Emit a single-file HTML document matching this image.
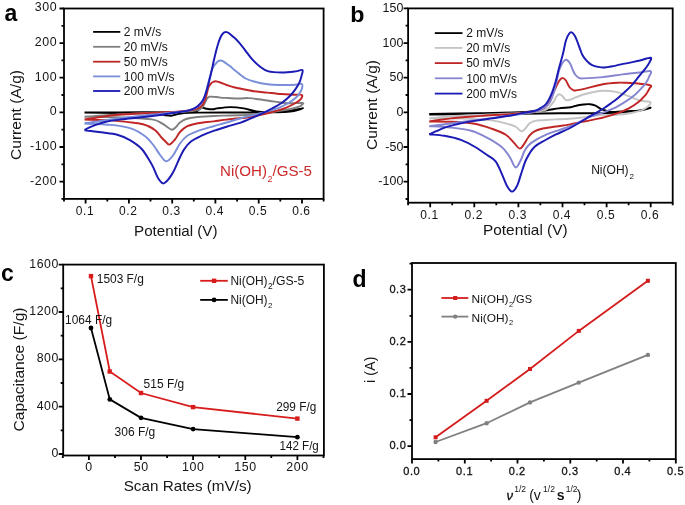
<!DOCTYPE html>
<html><head><meta charset="utf-8"><title>CV figure</title>
<style>
html,body{margin:0;padding:0;background:#fff;}
body{width:685px;height:505px;overflow:hidden;}
svg{display:block;will-change:transform;}
text{font-family:"Liberation Sans",sans-serif;fill:#141414;}
.t{letter-spacing:0.6px;}
.b{font-weight:bold;fill:#000;}
</style></head><body>
<svg width="685" height="505" viewBox="0 0 685 505">
<defs><filter id="bl" filterUnits="userSpaceOnUse" x="0" y="0" width="685" height="505"><feGaussianBlur stdDeviation="0.35"/></filter></defs>
<rect x="0" y="0" width="685" height="505" fill="#fff"/>
<g filter="url(#bl)">
<rect x="64.0" y="8.5" width="259.6" height="190.4" stroke="#000" stroke-width="1.8" fill="none"/>
<path d="M61.5,198.9 H64.0 M59.5,181.6 H64.0 M61.5,164.3 H64.0 M59.5,147.0 H64.0 M61.5,129.7 H64.0 M59.5,112.4 H64.0 M61.5,95.0 H64.0 M59.5,77.7 H64.0 M61.5,60.4 H64.0 M59.5,43.1 H64.0 M61.5,25.8 H64.0 M59.5,8.5 H64.0 " stroke="#000" stroke-width="1.8" fill="none"/>
<path d="M64.0,198.9 V201.4 M85.6,198.9 V203.4 M107.3,198.9 V201.4 M128.9,198.9 V203.4 M150.5,198.9 V201.4 M172.2,198.9 V203.4 M193.8,198.9 V201.4 M215.4,198.9 V203.4 M237.1,198.9 V201.4 M258.7,198.9 V203.4 M280.3,198.9 V201.4 M302.0,198.9 V203.4 M323.6,198.9 V201.4 " stroke="#000" stroke-width="1.8" fill="none"/>
<text x="57.3" y="184.5" font-size="12.4" text-anchor="end" class="t">-200</text>
<text x="57.3" y="149.9" font-size="12.4" text-anchor="end" class="t">-100</text>
<text x="57.3" y="115.3" font-size="12.4" text-anchor="end" class="t">0</text>
<text x="57.3" y="80.6" font-size="12.4" text-anchor="end" class="t">100</text>
<text x="57.3" y="46.0" font-size="12.4" text-anchor="end" class="t">200</text>
<text x="57.3" y="11.4" font-size="12.4" text-anchor="end" class="t">300</text>
<text x="85.0" y="215.2" font-size="12.0" text-anchor="middle" class="t">0.1</text>
<text x="128.3" y="215.2" font-size="12.0" text-anchor="middle" class="t">0.2</text>
<text x="171.6" y="215.2" font-size="12.0" text-anchor="middle" class="t">0.3</text>
<text x="214.8" y="215.2" font-size="12.0" text-anchor="middle" class="t">0.4</text>
<text x="258.1" y="215.2" font-size="12.0" text-anchor="middle" class="t">0.5</text>
<text x="301.4" y="215.2" font-size="12.0" text-anchor="middle" class="t">0.6</text>
<text x="175.8" y="235.5" font-size="15.0" text-anchor="middle" textLength="83.5" lengthAdjust="spacingAndGlyphs">Potential (V)</text>
<text transform="translate(20.8,115.0) rotate(-90)" font-size="15" text-anchor="middle" textLength="90" lengthAdjust="spacingAndGlyphs">Current (A/g)</text>
<text x="4.5" y="21.2" font-size="23.0" text-anchor="start" class="b">a</text>
<path d="M93.1,31.9 H120.3" stroke="#000000" stroke-width="1.8"/>
<text x="123.8" y="36.1" font-size="12.0" text-anchor="start" >2 mV/s</text>
<path d="M93.1,46.8 H120.3" stroke="#808080" stroke-width="1.8"/>
<text x="123.8" y="51.0" font-size="12.0" text-anchor="start" >20 mV/s</text>
<path d="M93.1,61.7 H120.3" stroke="#c02828" stroke-width="1.8"/>
<text x="123.8" y="65.9" font-size="12.0" text-anchor="start" >50 mV/s</text>
<path d="M93.1,76.4 H120.3" stroke="#7a8fd8" stroke-width="1.8"/>
<text x="123.8" y="80.6" font-size="12.0" text-anchor="start" >100 mV/s</text>
<path d="M93.1,91.0 H120.3" stroke="#1a1ab4" stroke-width="1.8"/>
<text x="123.8" y="95.2" font-size="12.0" text-anchor="start" >200 mV/s</text>
<path d="M84.5,112.5 C90.4,112.5 109.1,112.5 120.0,112.4 C130.9,112.4 140.0,112.3 150.0,112.2 C160.0,112.1 172.5,112.1 180.0,111.9 C187.5,111.8 191.8,111.7 195.0,111.3 C198.2,110.9 197.8,110.1 199.0,109.5 C200.2,108.9 200.7,107.7 201.9,107.6 C203.1,107.5 204.6,108.4 206.4,108.7 C208.2,109.0 211.0,109.3 212.8,109.3 C214.6,109.2 214.2,108.8 217.1,108.4 C220.0,108.0 225.9,107.1 230.4,107.1 C234.9,107.1 239.5,107.7 243.8,108.4 C248.1,109.1 251.6,110.8 256.3,111.4 C261.0,112.0 266.4,112.2 272.0,112.0 C277.6,111.8 284.8,111.1 290.0,110.5 C295.2,109.9 303.0,108.1 303.0,108.3 C303.0,108.5 295.5,110.8 290.0,111.5 C284.5,112.2 278.3,112.1 270.0,112.3 C261.7,112.5 251.7,112.5 240.0,112.5 C228.3,112.5 209.3,112.5 200.0,112.6 C190.7,112.7 188.0,112.7 184.0,113.0 C180.0,113.3 178.2,114.0 176.0,114.5 C173.8,115.0 172.8,115.7 171.0,115.8 C169.2,115.9 167.7,115.6 165.0,115.2 C162.3,114.8 160.8,113.9 155.0,113.5 C149.2,113.1 139.2,113.1 130.0,113.0 C120.8,112.9 107.6,112.9 100.0,112.8 C92.4,112.7 87.1,112.6 84.5,112.6" stroke="#000000" stroke-width="1.95" fill="none" stroke-linejoin="round"/>
<path d="M84.5,116.7 C86.2,116.6 90.8,116.3 95.0,116.0 C99.2,115.7 103.8,115.4 110.0,115.0 C116.2,114.6 123.7,114.1 132.0,113.7 C140.3,113.3 151.2,112.9 160.0,112.5 C168.8,112.1 178.8,111.9 185.0,111.5 C191.2,111.1 194.2,110.7 197.0,110.0 C199.8,109.3 200.8,108.6 202.0,107.5 C203.2,106.4 203.7,105.0 204.5,103.5 C205.3,102.0 206.1,99.9 206.9,98.8 C207.7,97.7 208.1,97.0 209.3,96.7 C210.5,96.4 212.2,96.8 214.0,96.9 C215.8,97.1 218.3,97.4 220.4,97.6 C222.5,97.8 223.4,97.8 226.7,97.9 C230.0,98.1 236.4,98.5 240.0,98.5 C243.6,98.5 244.8,97.9 248.3,98.1 C251.8,98.3 256.4,98.9 260.8,99.5 C265.2,100.1 270.1,101.0 274.7,101.6 C279.3,102.2 283.9,103.1 288.5,103.3 C293.1,103.5 300.2,102.7 302.4,103.0 C304.6,103.3 302.0,104.4 301.5,105.0 C301.0,105.6 301.1,105.8 299.6,106.4 C298.1,107.0 295.7,107.8 292.7,108.5 C289.7,109.2 285.8,109.9 281.6,110.6 C277.4,111.3 272.3,112.0 267.7,112.7 C263.1,113.4 258.5,114.1 253.9,114.5 C249.3,114.9 244.8,115.1 240.0,115.3 C235.2,115.5 229.4,115.5 225.0,115.6 C220.6,115.7 218.4,115.7 213.5,116.0 C208.6,116.3 200.2,116.7 195.7,117.2 C191.1,117.7 188.8,118.1 186.2,119.0 C183.6,119.9 181.8,121.1 180.0,122.5 C178.2,123.9 176.8,126.3 175.5,127.5 C174.2,128.7 173.2,129.7 171.9,129.7 C170.7,129.7 169.6,128.5 168.0,127.5 C166.4,126.5 164.9,124.8 162.2,123.5 C159.5,122.2 158.8,120.4 152.0,119.4 C145.2,118.4 132.6,117.9 121.3,117.4 C110.0,117.0 90.6,116.8 84.5,116.7" stroke="#808080" stroke-width="1.95" fill="none" stroke-linejoin="round"/>
<path d="M84.5,119.5 C87.1,119.1 95.2,117.7 100.0,117.0 C104.8,116.3 107.8,115.7 113.0,115.2 C118.2,114.7 124.7,114.4 131.0,114.0 C137.3,113.6 144.5,113.2 151.0,112.9 C157.5,112.6 164.3,112.3 170.0,112.0 C175.7,111.7 180.8,111.5 185.0,111.0 C189.2,110.5 192.3,110.0 195.0,109.3 C197.7,108.5 199.3,108.0 201.0,106.5 C202.7,105.0 204.0,102.8 205.0,100.5 C206.0,98.2 206.4,95.2 207.0,93.0 C207.6,90.8 207.8,88.8 208.5,87.2 C209.2,85.6 210.2,84.5 210.9,83.6 C211.7,82.7 212.2,82.4 213.0,82.0 C213.8,81.6 214.4,81.1 215.6,81.2 C216.8,81.3 218.6,81.9 220.4,82.5 C222.2,83.1 224.3,84.2 226.7,85.0 C229.1,85.8 231.6,86.7 235.0,87.5 C238.4,88.3 244.2,89.4 247.4,90.0 C250.6,90.6 250.5,90.8 253.9,91.2 C257.3,91.6 263.1,92.1 267.7,92.6 C272.3,93.1 277.0,93.7 281.6,94.0 C286.2,94.3 292.1,94.5 295.5,94.7 C298.9,94.9 300.8,94.2 301.7,94.9 C302.6,95.6 302.0,97.5 301.0,98.8 C300.0,100.1 298.0,101.5 295.5,103.0 C293.0,104.5 289.3,106.4 285.8,107.8 C282.3,109.2 278.9,110.1 274.7,111.3 C270.5,112.5 265.4,113.8 260.8,114.8 C256.2,115.8 250.4,116.9 246.9,117.5 C243.4,118.1 243.4,118.0 240.0,118.3 C236.6,118.6 231.0,119.1 226.6,119.6 C222.2,120.1 218.3,120.8 213.5,121.4 C208.7,122.0 202.4,122.4 198.0,123.2 C193.6,124.0 190.3,124.7 187.3,126.2 C184.3,127.7 182.1,129.8 180.0,132.0 C177.9,134.2 176.8,137.4 175.0,139.5 C173.2,141.6 171.0,144.2 169.5,144.6 C168.0,145.0 167.3,143.2 166.0,142.0 C164.7,140.8 163.2,139.4 161.5,137.5 C159.8,135.6 157.8,132.4 155.5,130.5 C153.2,128.6 150.9,127.2 148.0,126.0 C145.1,124.8 144.2,124.2 138.0,123.3 C131.8,122.4 120.0,121.0 111.1,120.4 C102.2,119.8 88.9,119.7 84.5,119.5" stroke="#c02828" stroke-width="1.95" fill="none" stroke-linejoin="round"/>
<path d="M84.5,123.6 C86.2,123.3 90.2,122.5 95.0,121.8 C99.8,121.1 107.0,120.0 113.0,119.2 C119.0,118.4 124.7,117.7 131.0,117.0 C137.3,116.3 144.5,115.5 151.0,114.8 C157.5,114.1 164.3,113.4 170.0,112.8 C175.7,112.2 180.8,112.0 185.0,111.2 C189.2,110.4 192.3,109.5 195.0,108.2 C197.7,106.9 199.5,105.2 201.0,103.5 C202.5,101.8 203.1,100.2 204.0,98.0 C204.9,95.8 205.7,93.0 206.5,90.0 C207.3,87.0 208.2,83.2 209.0,80.0 C209.8,76.8 210.8,73.2 211.5,71.0 C212.2,68.8 212.8,67.7 213.5,66.5 C214.2,65.3 214.8,64.7 215.6,63.8 C216.3,62.9 217.2,61.8 218.0,61.3 C218.8,60.8 219.7,60.6 220.4,60.5 C221.2,60.4 221.8,60.6 222.5,60.9 C223.2,61.2 223.2,61.2 224.4,62.1 C225.6,63.0 228.1,64.7 229.9,66.1 C231.7,67.5 233.3,69.1 235.0,70.5 C236.7,71.9 238.2,73.2 240.0,74.5 C241.8,75.8 243.3,77.3 245.6,78.5 C247.9,79.7 250.2,80.5 253.9,81.5 C257.6,82.5 263.1,83.7 267.7,84.3 C272.3,84.9 277.0,84.9 281.6,85.0 C286.2,85.1 292.1,84.9 295.5,84.7 C298.9,84.5 300.6,83.3 301.7,83.8 C302.8,84.3 302.5,86.1 302.1,87.7 C301.8,89.3 300.7,91.6 299.6,93.3 C298.5,95.0 297.4,96.5 295.5,98.1 C293.6,99.7 291.3,101.4 288.5,103.0 C285.7,104.6 282.3,106.4 278.8,107.8 C275.3,109.2 271.8,110.1 267.7,111.3 C263.6,112.5 258.5,113.6 253.9,114.8 C249.3,116.0 244.6,117.2 240.0,118.5 C235.4,119.8 231.0,121.2 226.6,122.5 C222.2,123.8 218.3,124.8 213.5,126.2 C208.7,127.6 202.4,129.3 198.0,130.9 C193.6,132.5 190.3,133.6 187.3,135.7 C184.3,137.8 182.4,140.2 180.0,143.5 C177.6,146.8 175.3,152.5 173.0,155.5 C170.7,158.5 168.4,161.3 166.3,161.3 C164.2,161.3 162.6,158.1 160.5,155.5 C158.4,152.9 156.4,149.1 154.0,146.0 C151.6,142.9 149.6,139.7 145.8,136.8 C142.1,133.9 137.3,130.6 131.5,128.6 C125.7,126.6 118.9,125.8 111.1,124.9 C103.3,124.1 88.9,123.7 84.5,123.5" stroke="#7a8fd8" stroke-width="1.95" fill="none" stroke-linejoin="round"/>
<path d="M84.5,130.2 C85.2,129.8 87.4,128.4 89.0,127.6 C90.6,126.8 91.3,126.5 94.0,125.6 C96.7,124.7 100.5,123.0 105.0,122.0 C109.5,121.0 114.9,120.2 121.0,119.4 C127.1,118.6 134.9,118.0 141.7,117.2 C148.5,116.4 155.9,115.5 162.0,114.7 C168.1,113.9 174.0,113.0 178.5,112.3 C183.0,111.6 186.2,111.1 189.0,110.4 C191.8,109.7 193.2,109.0 195.0,108.0 C196.8,107.0 198.2,105.8 199.5,104.5 C200.8,103.2 201.9,101.8 202.9,100.2 C203.9,98.6 204.5,97.0 205.3,94.7 C206.1,92.5 207.0,89.1 207.7,86.7 C208.4,84.3 208.8,82.6 209.3,80.5 C209.8,78.4 210.4,76.3 210.9,74.0 C211.4,71.7 212.0,69.2 212.5,66.8 C213.0,64.4 213.5,62.0 214.0,59.7 C214.5,57.4 215.1,55.1 215.6,53.0 C216.1,50.9 216.7,48.9 217.2,47.0 C217.7,45.1 218.3,43.4 218.8,41.8 C219.3,40.2 219.8,38.8 220.4,37.5 C221.0,36.2 221.7,35.0 222.4,34.1 C223.1,33.2 223.8,32.6 224.4,32.3 C225.1,32.0 225.7,32.0 226.3,32.1 C227.0,32.2 227.2,32.0 228.3,32.8 C229.4,33.6 231.4,35.2 233.1,36.7 C234.8,38.2 236.4,39.5 238.5,41.9 C240.6,44.2 243.3,47.8 245.6,50.8 C247.9,53.8 250.1,57.1 252.5,59.7 C254.9,62.3 257.3,64.6 259.8,66.5 C262.3,68.4 264.1,70.1 267.7,71.1 C271.3,72.1 277.0,72.5 281.6,72.5 C286.2,72.5 292.0,71.8 295.5,71.4 C299.0,71.0 301.4,69.3 302.4,70.0 C303.4,70.7 302.2,73.3 301.7,75.3 C301.2,77.3 300.6,79.9 299.6,82.2 C298.6,84.5 297.1,86.8 295.5,89.1 C293.9,91.4 292.2,93.7 289.9,96.0 C287.6,98.3 284.6,100.9 281.6,103.0 C278.6,105.1 275.4,106.7 271.9,108.5 C268.4,110.3 264.5,112.4 260.8,114.1 C257.1,115.8 253.2,117.5 249.7,118.9 C246.2,120.4 243.8,121.5 240.0,122.8 C236.2,124.1 231.0,125.3 226.6,126.7 C222.2,128.1 217.7,129.4 213.5,130.9 C209.3,132.4 205.4,133.9 201.6,135.7 C197.8,137.5 193.9,139.2 190.9,141.6 C187.9,144.0 185.9,146.8 183.8,149.9 C181.7,153.1 180.2,156.9 178.5,160.5 C176.8,164.1 175.2,168.3 173.5,171.5 C171.8,174.7 170.0,177.5 168.3,179.5 C166.6,181.5 164.9,183.7 163.2,183.4 C161.5,183.2 159.5,180.4 158.0,178.0 C156.5,175.6 155.3,171.8 154.0,169.0 C152.7,166.2 152.0,164.6 149.9,161.3 C147.8,158.0 145.1,152.6 141.7,149.0 C138.3,145.4 133.6,142.3 129.5,139.9 C125.4,137.5 122.0,136.0 117.2,134.7 C112.4,133.4 106.4,133.1 100.9,132.3 C95.5,131.6 87.2,130.5 84.5,130.2" stroke="#1a1ab4" stroke-width="1.95" fill="none" stroke-linejoin="round"/>
<text x="220" y="175.7" font-size="14" fill="#cc2a2a" style="fill:#cc2a2a" textLength="47" lengthAdjust="spacingAndGlyphs">Ni(OH)</text>
<text x="267.6" y="181.6" font-size="9" style="fill:#cc2a2a">2</text>
<text x="272.5" y="175.7" font-size="14" style="fill:#cc2a2a" textLength="39.5" lengthAdjust="spacingAndGlyphs">/GS-5</text>
<rect x="408.1" y="8.4" width="264.6" height="194.3" stroke="#000" stroke-width="1.8" fill="none"/>
<path d="M405.6,199.0 H408.1 M403.6,181.7 H408.1 M405.6,164.4 H408.1 M403.6,147.0 H408.1 M405.6,129.7 H408.1 M403.6,112.4 H408.1 M405.6,95.0 H408.1 M403.6,77.7 H408.1 M405.6,60.4 H408.1 M403.6,43.1 H408.1 M405.6,25.7 H408.1 M403.6,8.4 H408.1 " stroke="#000" stroke-width="1.8" fill="none"/>
<path d="M408.1,202.7 V205.2 M430.2,202.7 V207.2 M452.2,202.7 V205.2 M474.3,202.7 V207.2 M496.3,202.7 V205.2 M518.4,202.7 V207.2 M540.4,202.7 V205.2 M562.5,202.7 V207.2 M584.5,202.7 V205.2 M606.6,202.7 V207.2 M628.6,202.7 V205.2 M650.7,202.7 V207.2 M672.7,202.7 V205.2 " stroke="#000" stroke-width="1.8" fill="none"/>
<text x="403.6" y="185.3" font-size="12.4" text-anchor="end" style="letter-spacing:0.15px">-100</text>
<text x="403.6" y="150.6" font-size="12.4" text-anchor="end" style="letter-spacing:0.15px">-50</text>
<text x="403.6" y="116.0" font-size="12.4" text-anchor="end" style="letter-spacing:0.15px">0</text>
<text x="403.6" y="81.3" font-size="12.4" text-anchor="end" style="letter-spacing:0.15px">50</text>
<text x="403.6" y="46.7" font-size="12.4" text-anchor="end" style="letter-spacing:0.15px">100</text>
<text x="403.6" y="12.0" font-size="12.4" text-anchor="end" style="letter-spacing:0.15px">150</text>
<text x="429.6" y="219.2" font-size="12.0" text-anchor="middle" class="t">0.1</text>
<text x="473.7" y="219.2" font-size="12.0" text-anchor="middle" class="t">0.2</text>
<text x="517.8" y="219.2" font-size="12.0" text-anchor="middle" class="t">0.3</text>
<text x="561.9" y="219.2" font-size="12.0" text-anchor="middle" class="t">0.4</text>
<text x="606.0" y="219.2" font-size="12.0" text-anchor="middle" class="t">0.5</text>
<text x="650.1" y="219.2" font-size="12.0" text-anchor="middle" class="t">0.6</text>
<text x="525.3" y="235.3" font-size="15.0" text-anchor="middle" textLength="84.5" lengthAdjust="spacingAndGlyphs">Potential (V)</text>
<text transform="translate(377.1,105) rotate(-90)" font-size="15" text-anchor="middle" textLength="90" lengthAdjust="spacingAndGlyphs">Current (A/g)</text>
<text x="350.3" y="21.8" font-size="22.0" text-anchor="start" class="b" textLength="14.2" lengthAdjust="spacingAndGlyphs">b</text>
<path d="M434.8,33.1 H462.5" stroke="#000000" stroke-width="1.8"/>
<text x="466.2" y="37.3" font-size="12.0" text-anchor="start" >2 mV/s</text>
<path d="M434.8,47.9 H462.5" stroke="#c4c4c4" stroke-width="1.8"/>
<text x="466.2" y="52.1" font-size="12.0" text-anchor="start" >20 mV/s</text>
<path d="M434.8,63.1 H462.5" stroke="#c02828" stroke-width="1.8"/>
<text x="466.2" y="67.3" font-size="12.0" text-anchor="start" >50 mV/s</text>
<path d="M434.8,78.3 H462.5" stroke="#8585d0" stroke-width="1.8"/>
<text x="466.2" y="82.5" font-size="12.0" text-anchor="start" >100 mV/s</text>
<path d="M434.8,93.6 H462.5" stroke="#1a1ab4" stroke-width="1.8"/>
<text x="466.2" y="97.8" font-size="12.0" text-anchor="start" >200 mV/s</text>
<path d="M429.2,113.9 C437.7,113.8 464.9,113.5 480.0,113.2 C495.1,112.9 510.8,112.6 520.0,112.3 C529.2,112.0 530.5,111.5 535.0,111.2 C539.5,110.9 542.9,110.7 546.9,110.2 C550.9,109.7 554.8,108.9 558.7,108.4 C562.7,107.9 567.7,107.6 570.6,107.2 C573.5,106.8 573.8,106.2 576.0,105.8 C578.2,105.3 581.3,104.8 583.6,104.5 C585.9,104.2 588.0,104.0 590.0,104.2 C592.0,104.4 593.6,104.8 595.5,105.6 C597.4,106.4 599.0,108.2 601.1,109.1 C603.2,110.0 605.7,110.6 608.0,111.1 C610.3,111.6 612.1,112.0 615.0,112.0 C617.9,112.0 621.5,111.6 625.6,111.3 C629.8,111.0 635.7,111.0 639.9,110.4 C644.1,109.8 650.6,107.7 650.6,107.7 C650.6,107.7 644.2,109.8 640.0,110.5 C635.8,111.2 632.3,111.8 625.6,112.2 C618.9,112.6 610.9,112.9 600.0,113.1 C589.1,113.3 573.3,113.2 560.0,113.3 C546.7,113.4 533.3,113.6 520.0,113.8 C506.7,114.0 495.1,114.1 480.0,114.2 C464.9,114.3 437.7,114.5 429.2,114.5" stroke="#000000" stroke-width="1.95" fill="none" stroke-linejoin="round"/>
<path d="M429.2,118.4 C432.8,118.1 440.6,117.0 450.7,116.3 C460.8,115.6 476.8,115.1 490.0,114.5 C503.2,113.9 520.7,113.3 530.0,112.5 C539.3,111.7 542.5,110.8 546.0,109.5 C549.5,108.2 549.7,106.4 551.0,105.0 C552.3,103.6 553.1,102.7 554.0,101.3 C554.9,99.9 555.5,97.7 556.4,96.5 C557.3,95.3 558.3,94.3 559.3,94.2 C560.3,94.1 561.2,95.0 562.3,96.0 C563.4,97.0 564.5,99.5 565.9,100.1 C567.3,100.7 569.1,99.9 570.6,99.5 C572.1,99.1 572.5,98.6 575.0,97.7 C577.5,96.8 580.7,95.2 585.3,94.0 C589.9,92.8 597.7,91.1 602.8,90.8 C607.9,90.5 611.4,91.0 615.8,91.9 C620.1,92.8 624.9,94.8 628.9,96.2 C632.9,97.7 636.3,99.6 639.9,100.6 C643.5,101.6 650.0,100.9 650.6,102.4 C651.2,103.9 646.8,107.7 643.5,109.5 C640.2,111.3 635.5,112.1 631.0,113.0 C626.5,113.9 621.9,114.5 616.7,114.8 C611.5,115.1 604.6,114.7 600.0,115.0 C595.4,115.3 593.9,116.1 588.8,116.7 C583.6,117.3 575.7,118.2 569.1,118.7 C562.5,119.2 554.9,119.4 549.4,119.7 C543.9,120.0 539.6,120.0 536.3,120.6 C533.0,121.2 532.1,121.4 529.7,123.2 C527.4,125.0 524.5,130.6 522.2,131.2 C519.9,131.8 518.0,128.1 516.0,127.0 C514.0,125.9 514.0,125.6 509.9,124.5 C505.8,123.4 499.7,121.4 491.5,120.4 C483.3,119.4 471.3,118.9 460.9,118.6 C450.5,118.3 434.5,118.4 429.2,118.4" stroke="#c4c4c4" stroke-width="1.95" fill="none" stroke-linejoin="round"/>
<path d="M429.2,121.5 C432.8,121.0 442.0,119.3 450.7,118.4 C459.4,117.5 471.1,116.7 481.3,115.9 C491.5,115.2 503.1,114.6 512.0,113.9 C521.0,113.2 529.6,112.5 535.0,111.5 C540.4,110.5 542.1,109.3 544.5,107.8 C546.9,106.3 547.8,104.8 549.2,102.5 C550.6,100.2 551.5,97.2 552.8,94.2 C554.1,91.2 555.8,87.1 557.0,84.7 C558.2,82.3 558.9,81.0 559.9,79.9 C560.9,78.8 561.9,78.0 562.9,78.1 C563.9,78.2 564.8,79.0 565.9,80.5 C567.0,82.0 568.2,85.4 569.4,87.0 C570.6,88.6 571.9,89.4 573.0,90.0 C574.1,90.6 574.0,90.6 576.0,90.4 C578.0,90.2 580.8,89.6 585.3,88.6 C589.8,87.6 597.3,85.2 602.8,84.2 C608.2,83.2 614.2,82.9 618.0,82.7 C621.8,82.5 623.1,82.7 625.6,82.8 C628.1,82.9 630.8,83.0 633.2,83.2 C635.6,83.4 637.0,83.3 639.9,83.7 C642.8,84.1 649.0,84.6 650.6,85.4 C652.2,86.2 650.0,87.4 649.5,88.5 C649.0,89.6 648.2,90.9 647.5,92.0 C646.8,93.1 646.9,93.5 645.4,95.2 C643.9,96.9 641.3,99.9 638.5,102.1 C635.7,104.3 632.3,106.6 628.8,108.4 C625.3,110.2 621.9,111.7 617.7,113.2 C613.6,114.7 608.5,116.2 603.9,117.4 C599.3,118.6 593.6,119.7 590.0,120.4 C586.4,121.2 585.8,121.2 582.3,121.9 C578.8,122.6 573.5,123.8 569.1,124.6 C564.7,125.4 560.4,125.8 556.0,126.5 C551.6,127.2 546.5,127.6 542.8,128.5 C539.1,129.4 536.0,130.4 533.6,131.8 C531.2,133.2 530.1,135.0 528.5,137.0 C526.9,139.0 525.7,142.0 524.2,143.9 C522.7,145.8 521.4,148.8 519.7,148.6 C518.0,148.4 516.3,145.2 514.0,142.9 C511.7,140.6 509.6,137.1 505.8,134.7 C502.1,132.3 496.9,130.5 491.5,128.6 C486.1,126.7 479.9,124.7 473.1,123.5 C466.3,122.3 458.0,122.0 450.7,121.7 C443.4,121.4 432.8,121.5 429.2,121.5" stroke="#c02828" stroke-width="1.95" fill="none" stroke-linejoin="round"/>
<path d="M429.2,126.2 C432.8,125.8 442.0,124.6 450.7,123.5 C459.4,122.4 471.1,120.8 481.3,119.4 C491.5,118.0 503.9,116.5 512.0,115.3 C520.1,114.1 525.3,113.4 530.0,112.5 C534.7,111.6 537.3,111.0 540.0,110.0 C542.7,109.0 544.3,107.8 546.0,106.5 C547.7,105.2 548.8,103.9 550.0,102.0 C551.2,100.1 552.0,98.0 553.0,95.0 C554.0,92.0 555.1,87.8 556.0,84.0 C556.9,80.2 557.8,75.3 558.5,72.5 C559.2,69.7 559.7,68.7 560.5,66.9 C561.3,65.1 562.5,62.7 563.5,61.5 C564.5,60.3 565.4,59.4 566.5,59.7 C567.6,60.0 568.9,61.5 570.0,63.3 C571.1,65.1 572.1,68.5 573.0,70.4 C573.9,72.4 574.5,73.8 575.5,75.0 C576.5,76.2 577.7,77.2 579.0,77.8 C580.3,78.4 579.2,78.5 583.2,78.4 C587.2,78.3 596.3,77.8 602.8,77.1 C609.3,76.4 616.2,75.2 622.4,74.4 C628.6,73.6 635.2,72.9 639.9,72.4 C644.6,71.9 649.0,70.5 650.6,71.2 C652.2,71.9 649.9,74.7 649.2,76.5 C648.5,78.3 647.6,80.3 646.5,82.0 C645.4,83.7 644.7,84.7 642.7,86.9 C640.7,89.1 637.4,92.7 634.4,95.2 C631.4,97.7 628.2,99.9 624.7,102.1 C621.2,104.3 617.5,106.6 613.6,108.4 C609.7,110.2 605.0,111.8 601.1,113.2 C597.2,114.6 593.5,115.5 590.0,116.9 C586.5,118.3 582.8,120.1 580.0,121.5 C577.2,122.9 576.5,123.8 573.1,125.2 C569.8,126.6 564.3,128.3 559.9,129.8 C555.5,131.3 550.7,132.8 546.8,134.4 C542.9,136.1 539.4,137.8 536.3,139.7 C533.2,141.5 530.3,143.4 528.3,145.5 C526.2,147.6 525.2,149.7 524.0,152.0 C522.8,154.3 522.6,156.7 521.2,159.3 C519.8,161.9 517.5,167.8 515.6,167.4 C513.7,167.1 512.2,160.6 509.9,157.2 C507.6,153.8 505.4,150.2 501.7,147.0 C497.9,143.8 492.5,140.5 487.4,137.8 C482.3,135.1 477.2,132.4 471.1,130.7 C465.0,129.0 457.7,128.3 450.7,127.6 C443.7,126.8 432.8,126.4 429.2,126.2" stroke="#8585d0" stroke-width="1.95" fill="none" stroke-linejoin="round"/>
<path d="M429.2,134.3 C430.4,133.8 433.8,132.3 436.3,131.2 C438.8,130.1 441.6,128.7 444.0,127.8 C446.4,126.9 448.0,126.5 450.7,125.8 C453.4,125.1 456.6,124.2 460.0,123.5 C463.4,122.8 465.9,122.2 471.1,121.4 C476.4,120.6 484.7,119.4 491.5,118.4 C498.3,117.4 507.2,116.1 512.0,115.3 C516.8,114.5 516.2,114.3 520.0,113.6 C523.8,112.8 531.5,111.8 535.0,110.8 C538.5,109.8 539.1,108.9 540.9,107.8 C542.7,106.7 544.3,105.8 545.7,104.3 C547.1,102.8 548.0,101.2 549.2,98.9 C550.4,96.6 551.7,93.6 552.8,90.6 C553.9,87.6 554.8,84.7 555.8,81.1 C556.8,77.5 557.7,73.0 558.7,69.2 C559.7,65.5 560.9,61.6 561.7,58.6 C562.5,55.6 562.8,54.5 563.5,51.5 C564.2,48.5 565.0,43.4 565.9,40.5 C566.8,37.6 567.9,35.4 568.9,34.0 C569.9,32.6 570.7,32.1 571.7,32.4 C572.7,32.7 573.9,34.2 574.9,35.9 C575.9,37.6 576.9,40.5 577.8,42.8 C578.7,45.1 579.5,47.8 580.3,49.8 C581.0,51.8 581.4,53.1 582.3,54.7 C583.2,56.4 584.5,58.2 585.7,59.7 C586.9,61.2 588.2,62.5 589.7,63.6 C591.2,64.7 592.7,65.5 594.7,66.1 C596.7,66.7 599.5,67.2 601.6,67.4 C603.7,67.6 605.5,67.3 607.5,67.1 C609.5,66.9 611.4,66.5 613.5,66.1 C615.6,65.7 617.2,65.2 620.0,64.6 C622.8,64.0 626.7,63.3 630.0,62.6 C633.3,61.9 636.6,61.3 640.0,60.5 C643.4,59.7 649.0,57.5 650.6,57.8 C652.2,58.1 650.3,60.6 649.5,62.3 C648.7,64.0 647.1,66.2 646.0,67.8 C644.9,69.4 644.2,70.0 642.7,71.8 C641.2,73.6 638.9,76.5 637.0,78.8 C635.1,81.0 633.7,83.0 631.6,85.3 C629.5,87.5 626.8,90.1 624.5,92.3 C622.2,94.5 620.0,96.3 617.7,98.2 C615.4,100.1 612.8,101.9 610.5,103.6 C608.2,105.3 606.1,106.8 603.9,108.2 C601.6,109.7 599.3,111.0 597.0,112.3 C594.7,113.6 592.5,114.8 590.0,116.2 C587.5,117.6 585.8,118.9 582.3,120.9 C578.8,123.0 573.5,126.2 569.1,128.5 C564.7,130.8 559.9,132.5 556.0,134.4 C552.1,136.3 549.1,137.9 545.5,140.0 C541.9,142.1 537.6,143.8 534.4,147.0 C531.2,150.2 528.5,154.9 526.3,159.3 C524.1,163.7 522.7,169.2 521.2,173.6 C519.7,178.0 518.6,182.8 517.1,185.8 C515.6,188.8 513.7,191.6 512.0,191.6 C510.3,191.6 508.6,188.8 506.9,185.8 C505.2,182.8 503.6,177.7 501.7,173.6 C499.8,169.5 498.0,164.4 495.6,161.3 C493.2,158.2 490.8,157.6 487.4,155.2 C484.0,152.8 479.6,149.6 475.2,147.0 C470.8,144.4 466.0,141.8 460.9,139.9 C455.8,138.0 449.8,136.7 444.5,135.8 C439.2,134.9 431.8,134.6 429.2,134.3" stroke="#1a1ab4" stroke-width="1.95" fill="none" stroke-linejoin="round"/>
<text x="591.2" y="173.6" font-size="12" textLength="37.4" lengthAdjust="spacingAndGlyphs">Ni(OH)</text>
<text x="629.6" y="178.6" font-size="8">2</text>
<rect x="63.2" y="264.6" width="260.7" height="190.9" stroke="#000" stroke-width="1.8" fill="none"/>
<path d="M58.7,454.0 H63.2 M60.7,430.3 H63.2 M58.7,406.6 H63.2 M60.7,383.0 H63.2 M58.7,359.3 H63.2 M60.7,335.6 H63.2 M58.7,312.0 H63.2 M60.7,288.3 H63.2 M58.7,264.6 H63.2 " stroke="#000" stroke-width="1.8" fill="none"/>
<path d="M62.8,455.5 V458.0 M88.9,455.5 V460.0 M115.0,455.5 V458.0 M141.0,455.5 V460.0 M167.1,455.5 V458.0 M193.1,455.5 V460.0 M219.2,455.5 V458.0 M245.3,455.5 V460.0 M271.3,455.5 V458.0 M297.4,455.5 V460.0 M323.5,455.5 V458.0 " stroke="#000" stroke-width="1.8" fill="none"/>
<text x="59.0" y="457.0" font-size="12.3" text-anchor="end" class="t">0</text>
<text x="59.0" y="409.6" font-size="12.3" text-anchor="end" class="t">400</text>
<text x="59.0" y="362.3" font-size="12.3" text-anchor="end" class="t">800</text>
<text x="59.0" y="315.0" font-size="12.3" text-anchor="end" class="t">1200</text>
<text x="59.0" y="267.6" font-size="12.3" text-anchor="end" class="t">1600</text>
<text x="89.1" y="471.3" font-size="12.4" text-anchor="middle" class="t">0</text>
<text x="141.2" y="471.3" font-size="12.4" text-anchor="middle" class="t">50</text>
<text x="193.3" y="471.3" font-size="12.4" text-anchor="middle" class="t">100</text>
<text x="245.5" y="471.3" font-size="12.4" text-anchor="middle" class="t">150</text>
<text x="297.6" y="471.3" font-size="12.4" text-anchor="middle" class="t">200</text>
<text x="187.7" y="490.9" font-size="15.0" text-anchor="middle" textLength="128" lengthAdjust="spacingAndGlyphs">Scan Rates (mV/s)</text>
<text transform="translate(23.6,369.5) rotate(-90)" font-size="15" text-anchor="middle" textLength="124" lengthAdjust="spacingAndGlyphs">Capacitance (F/g)</text>
<text x="1.0" y="280.6" font-size="23.0" text-anchor="start" class="b">c</text>
<path d="M91.0,276.1 L109.8,371.5 L141.0,393.0 L193.1,407.1 L297.4,418.6" stroke="#d81c1c" stroke-width="1.8" fill="none"/>
<path d="M91.0,328.0 L109.8,399.4 L141.0,417.8 L193.1,429.1 L297.4,437.2" stroke="#000" stroke-width="1.8" fill="none"/>
<rect x="88.8" y="273.9" width="4.4" height="4.4" fill="#d81c1c"/>
<rect x="107.5" y="369.3" width="4.4" height="4.4" fill="#d81c1c"/>
<rect x="138.8" y="390.8" width="4.4" height="4.4" fill="#d81c1c"/>
<rect x="190.9" y="404.9" width="4.4" height="4.4" fill="#d81c1c"/>
<rect x="295.2" y="416.4" width="4.4" height="4.4" fill="#d81c1c"/>
<circle cx="91.0" cy="328.0" r="2.4" fill="#000"/>
<circle cx="109.8" cy="399.4" r="2.4" fill="#000"/>
<circle cx="141.0" cy="417.8" r="2.4" fill="#000"/>
<circle cx="193.1" cy="429.1" r="2.4" fill="#000"/>
<circle cx="297.4" cy="437.2" r="2.4" fill="#000"/>
<text x="96.8" y="282.6" font-size="12.0" text-anchor="start" textLength="47" lengthAdjust="spacingAndGlyphs">1503 F/g</text>
<text x="65.1" y="324.1" font-size="12.0" text-anchor="start" textLength="47" lengthAdjust="spacingAndGlyphs">1064 F/g</text>
<text x="143.6" y="387.7" font-size="12.0" text-anchor="start" textLength="40.6" lengthAdjust="spacingAndGlyphs">515 F/g</text>
<text x="114.5" y="436.3" font-size="12.0" text-anchor="start" textLength="40.8" lengthAdjust="spacingAndGlyphs">306 F/g</text>
<text x="276.2" y="410.7" font-size="12.0" text-anchor="start" textLength="40.1" lengthAdjust="spacingAndGlyphs">299 F/g</text>
<text x="279.5" y="449.9" font-size="12.0" text-anchor="start" textLength="39.3" lengthAdjust="spacingAndGlyphs">142 F/g</text>
<path d="M200.2,280.8 H227.8" stroke="#d81c1c" stroke-width="1.8"/>
<rect x="211.9" y="278.6" width="4.4" height="4.4" fill="#d81c1c"/>
<path d="M200.2,299.9 H227.8" stroke="#000" stroke-width="1.8"/>
<circle cx="214.1" cy="299.9" r="2.4" fill="#000"/>
<text x="230.5" y="284.9" font-size="12" textLength="37" lengthAdjust="spacingAndGlyphs">Ni(OH)</text>
<text x="268" y="289.4" font-size="8.3">2</text>
<text x="272.5" y="284.9" font-size="12" textLength="31.9" lengthAdjust="spacingAndGlyphs">/GS-5</text>
<text x="230.5" y="304.0" font-size="12" textLength="37" lengthAdjust="spacingAndGlyphs">Ni(OH)</text>
<text x="268" y="307.7" font-size="8">2</text>
<rect x="412.0" y="263.0" width="263.8" height="196.1" stroke="#000" stroke-width="1.8" fill="none"/>
<path d="M407.5,446.2 H412.0 M409.5,420.1 H412.0 M407.5,394.0 H412.0 M409.5,367.9 H412.0 M407.5,341.9 H412.0 M409.5,315.8 H412.0 M407.5,289.7 H412.0 M409.5,263.6 H412.0 " stroke="#000" stroke-width="1.8" fill="none"/>
<path d="M412.0,459.1 V463.6 M438.4,459.1 V461.6 M464.8,459.1 V463.6 M491.1,459.1 V461.6 M517.5,459.1 V463.6 M543.9,459.1 V461.6 M570.3,459.1 V463.6 M596.7,459.1 V461.6 M623.0,459.1 V463.6 M649.4,459.1 V461.6 M675.8,459.1 V463.6 " stroke="#000" stroke-width="1.8" fill="none"/>
<text x="406.5" y="449.2" font-size="11.0" text-anchor="end" class="t" stroke="#141414" stroke-width="0.3">0.0</text>
<text x="406.5" y="397.0" font-size="11.0" text-anchor="end" class="t" stroke="#141414" stroke-width="0.3">0.1</text>
<text x="406.5" y="344.9" font-size="11.0" text-anchor="end" class="t" stroke="#141414" stroke-width="0.3">0.2</text>
<text x="406.5" y="292.7" font-size="11.0" text-anchor="end" class="t" stroke="#141414" stroke-width="0.3">0.3</text>
<text x="411.8" y="474.5" font-size="11.0" text-anchor="middle" class="t" stroke="#141414" stroke-width="0.3">0.0</text>
<text x="464.6" y="474.5" font-size="11.0" text-anchor="middle" class="t" stroke="#141414" stroke-width="0.3">0.1</text>
<text x="517.3" y="474.5" font-size="11.0" text-anchor="middle" class="t" stroke="#141414" stroke-width="0.3">0.2</text>
<text x="570.1" y="474.5" font-size="11.0" text-anchor="middle" class="t" stroke="#141414" stroke-width="0.3">0.3</text>
<text x="622.8" y="474.5" font-size="11.0" text-anchor="middle" class="t" stroke="#141414" stroke-width="0.3">0.4</text>
<text x="675.6" y="474.5" font-size="11.0" text-anchor="middle" class="t" stroke="#141414" stroke-width="0.3">0.5</text>
<text transform="translate(374.8,369.8) rotate(-90)" font-size="14" text-anchor="middle" textLength="26.5" lengthAdjust="spacing">i (A)</text>
<text x="352.5" y="286.5" font-size="23.0" text-anchor="start" class="b">d</text>
<path d="M435.6,442.0 L486.6,423.2 L530.0,402.4 L578.8,382.6 L647.9,354.9" stroke="#808080" stroke-width="1.8" fill="none"/>
<path d="M435.6,437.3 L486.6,400.8 L530.0,369.0 L578.8,330.9 L647.9,280.8" stroke="#d41c1c" stroke-width="1.8" fill="none"/>
<rect x="433.6" y="435.3" width="4" height="4" fill="#d41c1c"/>
<rect x="484.6" y="398.8" width="4" height="4" fill="#d41c1c"/>
<rect x="528.0" y="367.0" width="4" height="4" fill="#d41c1c"/>
<rect x="576.8" y="328.9" width="4" height="4" fill="#d41c1c"/>
<rect x="645.9" y="278.8" width="4" height="4" fill="#d41c1c"/>
<circle cx="435.6" cy="442.0" r="2.2" fill="#808080"/>
<circle cx="486.6" cy="423.2" r="2.2" fill="#808080"/>
<circle cx="530.0" cy="402.4" r="2.2" fill="#808080"/>
<circle cx="578.8" cy="382.6" r="2.2" fill="#808080"/>
<circle cx="647.9" cy="354.9" r="2.2" fill="#808080"/>
<path d="M441.4,298 H468.3" stroke="#d41c1c" stroke-width="1.8"/>
<rect x="453.2" y="296" width="4" height="4" fill="#d41c1c"/>
<path d="M441.4,316.6 H468.3" stroke="#808080" stroke-width="1.8"/>
<circle cx="455.2" cy="316.6" r="2.2" fill="#808080"/>
<text x="471.6" y="302.8" font-size="11.5" textLength="37" lengthAdjust="spacingAndGlyphs">Ni(OH)</text>
<text x="509" y="306.5" font-size="7.5">2</text>
<text x="513" y="302.8" font-size="11.5" textLength="19" lengthAdjust="spacingAndGlyphs">/GS</text>
<text x="471.6" y="321.5" font-size="11.5" textLength="37" lengthAdjust="spacingAndGlyphs">Ni(OH)</text>
<text x="509" y="325.2" font-size="7.5">2</text>
<text x="506.6" y="500.3" font-size="13" font-style="italic" stroke="#141414" stroke-width="0.35">&#957;</text>
<text x="514.2" y="491.6" font-size="8.5">1/2</text>
<text x="529.2" y="500.2" font-size="14">(v</text>
<text x="543.1" y="491.6" font-size="8.5">1/2</text>
<text x="556.8" y="500.2" font-size="14" font-weight="bold">s</text>
<text x="565.7" y="491.6" font-size="8.5">1/2</text>
<text x="576.7" y="500.2" font-size="14">)</text>
</g>
</svg>
</body></html>
